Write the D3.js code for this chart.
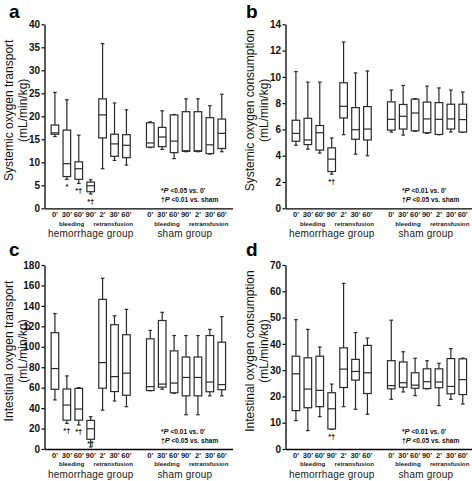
<!DOCTYPE html>
<html><head><meta charset="utf-8">
<script src="https://cdn.jsdelivr.net/npm/d3@7/dist/d3.min.js"></script>
<style>body{margin:0;background:#fff}svg{display:block}text{font-family:"Liberation Sans",Arial,sans-serif}</style>
</head><body><svg id="chart" width="472" height="481"></svg>
<script>
// categories
const timeLabels = ["0'","30'","60'","90'","2'","30'","60'","0'","30'","60'","90'","2'","30'","60'"];
const slots = [0,1,2,3,4,5,6,8,9,10,11,12,13,14];
const phaseLabels = ["bleeding","retransfusion","bleeding","retransfusion"];
const phaseSlots = [1.4,4.9,9.4,12.9];
const groupLabels = ["hemorrhage group","sham group"];
const groupSlots = [3.0,10.9];

// series: [whisker min, Q1, median, Q3, whisker max]
const systemicTransport = [
  [15.6,16.1,16.4,18.1,25.2],[6.3,6.9,9.7,17.0,23.6],[5.4,6.3,8.6,10.1,15.9],[3.1,3.6,4.9,5.7,6.2],
  [8.6,15.3,20.3,23.8,35.8],[10.4,11.3,14.0,16.1,22.9],[9.4,11.0,13.7,16.0,21.4],
  [13.2,13.3,14.2,18.6,18.8],[12.8,13.4,15.5,17.6,21.2],[10.8,12.1,14.6,20.3,20.4],[12.3,12.4,12.5,21.0,23.8],
  [12.3,12.4,12.5,21.0,23.8],[11.8,11.9,13.8,19.7,22.3],[12.3,13.0,16.3,19.4,24.8]
];
const systemicConsumption = [
  [4.8,5.1,5.7,6.7,10.4],[4.5,4.85,5.2,6.85,9.6],[4.2,4.43,5.75,6.3,9.6],[2.6,2.8,3.74,4.6,5.35],
  [5.6,6.87,7.76,9.55,12.65],[4.12,5.25,5.98,7.66,10.3],[4.0,5.2,6.03,7.74,10.45],
  [5.8,5.95,6.77,8.1,9.0],[5.57,6.03,7.0,7.9,9.35],[5.85,5.9,7.25,8.3,8.35],[5.7,5.75,6.8,8.08,9.3],
  [5.6,5.62,6.77,8.04,9.16],[5.8,6.03,6.8,7.92,9.0],[5.78,5.8,6.75,7.92,8.85]
];
const intestinalTransport = [
  [48,58.4,78.7,113.8,132.5],[25,28.2,43,58.7,71.5],[23.5,28.2,39.1,59.3,60],[2,9.5,19.8,28,31.6],
  [38,59.5,84.5,146.4,167],[47,56.2,70.8,121.6,130.4],[41.4,52.6,74.2,111.8,136.6],
  [57,57.2,61,107.8,116],[58.5,60.5,63.5,125.7,133.7],[54.5,55,64.5,96,111],[33.5,52,70,90,111],
  [33.5,52,70,90,111],[52,56,65.5,111,117],[52,58,63,104.5,129.5]
];
const intestinalConsumption = [
  [10.8,14.6,28.6,35.3,49.2],[7,15.7,22.8,34.7,45.5],[12.3,16.1,22.3,35.3,38.8],[7.5,7.6,15.3,21.4,24.7],
  [16.1,23.4,30.4,38.5,63],[15.1,26.2,29.5,34.1,44.3],[13.2,21.1,29,39.4,42.2],
  [18.9,22.9,24.1,33.6,49],[21.7,23.5,25.2,33.1,37],[20.3,23.1,24.3,29,34.5],[22.9,23,25.6,30.5,33.6],
  [16.5,23.3,25.5,30.5,32.6],[18.9,21,23.8,34.4,38.2],[17.1,20.7,26.4,34.3,34.6]
];
// significance marks under boxes
const marksA = ["","*","*†","*†","","","","","","","","","",""];
const marksB = ["","","","*†","","","","","","","","","",""];
const marksC = ["","*†","*†","*†","","","","","","","","","",""];
const marksD = ["","","","*†","","","","","","","","","",""];
// y ticks
const ticksA = [0,5,10,15,20,25,30,35,40];
const ticksB = [0,2,4,6,8,10,12,14];
const ticksC = [0,20,40,60,80,100,120,140,160,180];
const ticksD = [0,10,20,30,40,50,60,70];
// titles / legends
const panelLetters = ["a","b","c","d"];
const yTitles = ["Systemic oxygen transport","Systemic oxygen consumption","Intestinal oxygen transport","Intestinal oxygen consumption"];
const yUnit = "(mL/min/kg)";
const legendA = ["*|P| <0.05 vs. 0'","†|P| <0.01 vs. sham"];
const legendB = ["*|P| <0.01 vs. 0'","†|P| <0.05 vs. sham"];

const panels = [
  {data:systemicTransport, marks:marksA, ticks:ticksA, legend:legendA, ox:44.5, top:24.3, bottom:208.3, lx:9, ly:17.5},
  {data:systemicConsumption, marks:marksB, ticks:ticksB, legend:legendB, ox:285.5, top:24.3, bottom:208.3, lx:246, ly:17.5},
  {data:intestinalTransport, marks:marksC, ticks:ticksC, legend:legendB, ox:44.5, top:265, bottom:449, lx:9, ly:256},
  {data:intestinalConsumption, marks:marksD, ticks:ticksD, legend:legendB, ox:285.5, top:265, bottom:449, lx:246, ly:256}
];

const svg = d3.select("#chart");
const stroke = "#2a2a2a";

panels.forEach((p,pi)=>{
  const g = svg.append("g");
  const ticks = p.ticks;
  const y = d3.scaleLinear().domain([0, ticks[ticks.length-1]]).range([p.bottom, p.top]);
  const x = d3.scaleLinear().domain([-0.875, 14.9]).range([p.ox, p.ox+188]);

  // panel letter
  g.append("text").attr("x", p.lx).attr("y", p.ly).attr("font-size",19).attr("font-weight","bold").attr("fill","#000").text(panelLetters[pi]);

  // y axis
  const yAxis = d3.axisLeft(y).tickValues(ticks).tickSize(3).tickPadding(1.5).tickSizeOuter(0);
  const ya = g.append("g").attr("transform",`translate(${p.ox},0)`).call(yAxis);
  ya.select(".domain").attr("stroke","#000").attr("stroke-width",1.3);
  ya.selectAll(".tick line").attr("stroke","#000").attr("stroke-width",1.2);
  ya.selectAll(".tick text").attr("font-size",10).attr("font-weight","bold").attr("fill","#111")
    .style("font-family",'"Liberation Sans",Arial,sans-serif');

  // x axis baseline (no ticks)
  const xAxis = d3.axisBottom(x).tickValues([]).tickSizeOuter(0);
  const xa = g.append("g").attr("transform",`translate(0,${p.bottom})`).call(xAxis);
  xa.select(".domain").attr("stroke","#000").attr("stroke-width",1.3);

  // y title
  const midY = (p.top+p.bottom)/2 - 6;
  g.append("text").attr("transform",`translate(${p.ox-31.5},${midY}) rotate(-90)`)
    .attr("text-anchor","middle").attr("font-size",12).attr("fill","#111").text(yTitles[pi]);
  g.append("text").attr("transform",`translate(${p.ox-18},${midY}) rotate(-90)`)
    .attr("text-anchor","middle").attr("font-size",12).attr("fill","#111").text(yUnit);

  // boxes
  const bw = 7.6, cw = 3.6;
  p.data.forEach((d,i)=>{
    const cx = x(slots[i]);
    const [mn,q1,md,q3,mx] = d;
    const bg = g.append("g").attr("stroke",stroke).attr("stroke-width",1.2).attr("fill","none");
    bg.append("line").attr("x1",cx).attr("x2",cx).attr("y1",y(mx)).attr("y2",y(q3));
    bg.append("line").attr("x1",cx).attr("x2",cx).attr("y1",y(q1)).attr("y2",y(mn));
    bg.append("line").attr("x1",cx-cw/2).attr("x2",cx+cw/2).attr("y1",y(mx)).attr("y2",y(mx));
    bg.append("line").attr("x1",cx-cw/2).attr("x2",cx+cw/2).attr("y1",y(mn)).attr("y2",y(mn));
    bg.append("rect").attr("x",cx-bw/2).attr("y",y(q3)).attr("width",bw).attr("height",Math.max(0.5,y(q1)-y(q3))).attr("fill","#fff");
    bg.append("line").attr("x1",cx-bw/2).attr("x2",cx+bw/2).attr("y1",y(md)).attr("y2",y(md));
    if (p.marks[i]) {
      const by = Math.min(y(mn)+9.5, p.bottom-3);
      g.append("text").attr("x",cx).attr("y",by).attr("text-anchor","middle")
        .attr("font-size",7.5).attr("font-weight","bold").attr("fill","#111").text(p.marks[i]);
    }
  });

  // x tick labels
  timeLabels.forEach((t,i)=>{
    g.append("text").attr("x",x(slots[i])).attr("y",p.bottom+9).attr("text-anchor","middle")
      .attr("font-size",7.6).attr("font-weight","bold").attr("fill","#1a1a1a").text(t);
  });
  phaseLabels.forEach((t,i)=>{
    g.append("text").attr("x",x(phaseSlots[i])).attr("y",p.bottom+17.3).attr("text-anchor","middle")
      .attr("font-size",6.2).attr("font-weight","bold").attr("fill","#1a1a1a").text(t);
  });
  groupLabels.forEach((t,i)=>{
    g.append("text").attr("x",x(groupSlots[i])).attr("y",p.bottom+29).attr("text-anchor","middle")
      .attr("font-size",10).attr("fill","#1a1a1a").attr("letter-spacing",0.2).text(t);
  });

  // legend
  p.legend.forEach((t,k)=>{
    const parts = t.split("|");
    const tx = g.append("text").attr("x",x(8.9)).attr("y",p.bottom-15.5+k*9)
      .attr("font-size",6.6).attr("font-weight","bold").attr("fill","#111");
    tx.append("tspan").text(parts[0]);
    tx.append("tspan").attr("font-style","italic").attr("font-size",7.5).text(parts[1]);
    tx.append("tspan").text(parts[2]);
  });
});
</script></body></html>
